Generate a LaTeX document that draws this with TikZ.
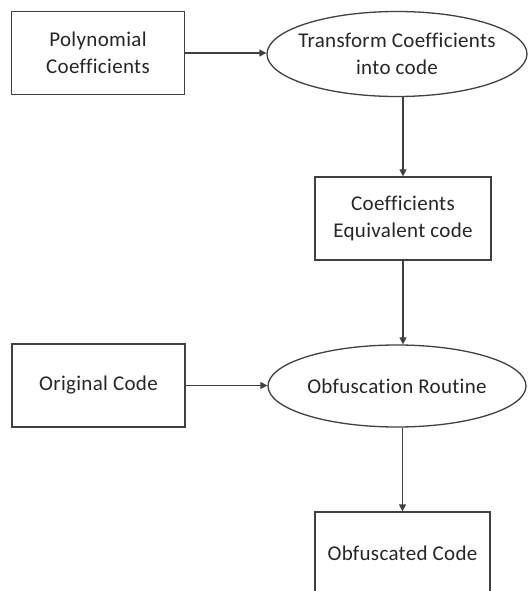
\documentclass[tikz,border=0pt]{standalone}
\usepackage{fontspec}
\setmainfont{Carlito}[Ligatures={NoCommon},LetterSpace=1.5]
\usetikzlibrary{shapes.geometric,arrows.meta}
\definecolor{linecol}{HTML}{404040}
\definecolor{textcol}{HTML}{262626}
\begin{document}
\begin{tikzpicture}[x=1pt,y=1pt,
  every node/.style={text=textcol, font=\fontsize{21}{27}\selectfont, align=center, inner sep=0pt},
  boxnode/.style={draw=linecol, line width=1.3pt, rectangle, minimum width=173pt, minimum height=83pt},
  ovalnode/.style={draw=linecol, line width=1.3pt, ellipse, inner xsep=-40pt, inner ysep=-20pt, minimum width=260pt, minimum height=85pt},
  flow/.style={draw=linecol, line width=1.3pt, -{Triangle[length=7pt,width=7pt]}}]
\useasboundingbox (0,0) rectangle (529,-591);
\clip (0,0) rectangle (529,-591);
\fill[white] (0,0) rectangle (529,-591);
\node[boxnode] (poly) at (98,-53) {Polynomial\\Coefficients};
\node[ovalnode] (trans) at (397,-54) {Transform Coefficients\\into code};
\node[boxnode, minimum width=176pt] (equiv) at (403,-218.5) {Coefficients\\Equivalent code};
\node[boxnode] (orig) at (98.5,-385.5) {Original Code};
\node[ovalnode, minimum width=258pt, minimum height=82pt] (obf) at (397,-386) {Obfuscation Routine};
\node[boxnode, minimum width=175pt] (res) at (402.5,-553.5) {Obfuscated Code};
\draw[flow] (poly.east) -- (poly.east -| trans.west);
\draw[flow] (trans.south -| equiv.north) -- (equiv.north);
\draw[flow] (equiv.south) -- (equiv.south |- obf.north);
\draw[flow] (orig.east) -- (orig.east -| obf.west);
\draw[flow] (obf.south -| res.north) -- (res.north);
\end{tikzpicture}
\end{document}
